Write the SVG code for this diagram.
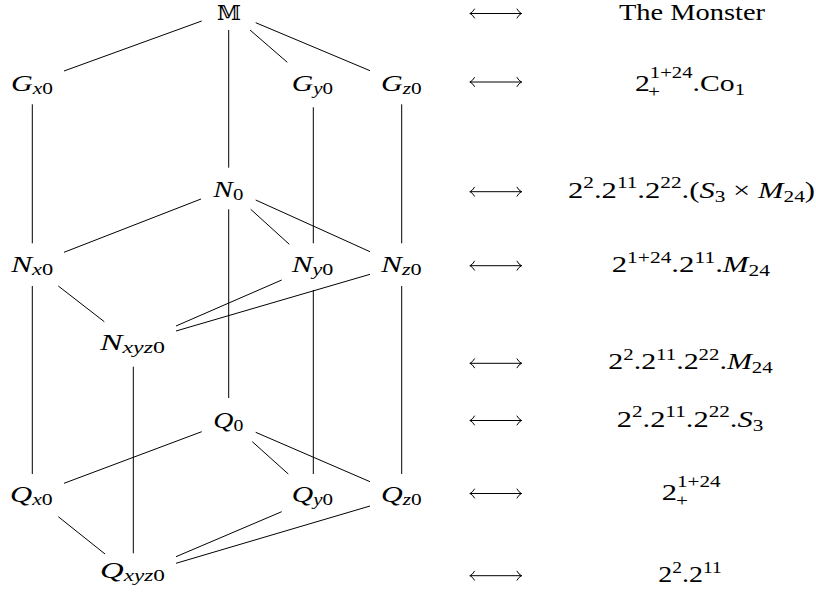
<svg xmlns="http://www.w3.org/2000/svg" width="816" height="596" viewBox="0 0 816 596">
<style>
  .bg { fill: #ffffff; }
  .edge { stroke: #000000; stroke-width: 1; fill: none; stroke-linecap: butt; }
  .lbl { font-family: "Liberation Serif", "Times New Roman", serif; font-size: 24px; font-style: italic; fill: #000; }
  .s { font-size: 17px; }
  .up { font-style: normal; }
  .rt { font-family: "Liberation Serif", "Times New Roman", serif; font-size: 23px; fill: #000; }
  .sp { font-size: 16px; }
  .it { font-style: italic; }
  .bb { font-family: "DejaVu Serif", "DejaVu Sans", serif; font-size: 21px; fill: #000; }
  .arr { stroke: #000; stroke-width: 1; fill: none; stroke-linecap: round; }
</style>
<defs>
  <g id="lra">
    <line x1="470" y1="0" x2="521.5" y2="0"/>
    <path d="M474.5,-4.5 Q472.5,-1 470,0 Q472.5,1 474.5,4.5"/>
    <path d="M517,-4.5 Q519,-1 521.5,0 Q519,1 517,4.5"/>
  </g>
</defs>
<rect class="bg" x="0" y="0" width="816" height="596"/>

<g id="connectors" class="edge">
  <line x1="201.7" y1="21" x2="64" y2="71"/>
  <line x1="228.7" y1="30" x2="228.7" y2="167.7"/>
  <line x1="250" y1="30" x2="287.3" y2="62.3"/>
  <line x1="255.7" y1="22.7" x2="370" y2="70.7"/>
  <line x1="32.3" y1="104.3" x2="32.3" y2="243.3"/>
  <line x1="313.3" y1="107.3" x2="313.3" y2="243.3"/>
  <line x1="401.7" y1="104.3" x2="401.7" y2="243.3"/>
  <line x1="201" y1="199" x2="64" y2="252.3"/>
  <line x1="250.7" y1="209.3" x2="289.3" y2="244.3"/>
  <line x1="255.7" y1="200" x2="370" y2="251.7"/>
  <line x1="228.7" y1="209.3" x2="228.7" y2="398"/>
  <line x1="58.3" y1="286" x2="104.3" y2="321.7"/>
  <line x1="281.7" y1="280" x2="176" y2="326"/>
  <line x1="370" y1="274.3" x2="176" y2="331"/>
  <line x1="32.3" y1="286" x2="32.3" y2="474"/>
  <line x1="313.3" y1="290" x2="313.3" y2="474"/>
  <line x1="401.7" y1="286" x2="401.7" y2="474"/>
  <line x1="133.3" y1="366.7" x2="133.3" y2="553.3"/>
  <line x1="201.7" y1="431.7" x2="64" y2="483.3"/>
  <line x1="252.3" y1="441.7" x2="288.3" y2="474"/>
  <line x1="255.7" y1="432.3" x2="370" y2="481.7"/>
  <line x1="58.3" y1="516.7" x2="105" y2="554"/>
  <line x1="281.7" y1="511.7" x2="176" y2="556.7"/>
  <line x1="370" y1="506" x2="176" y2="563.3"/>
</g>

<g id="node-M"><text class="bb" x="217" y="19.5" textLength="24" lengthAdjust="spacingAndGlyphs">𝕄</text></g>
<g id="node-Gx0"><text class="lbl" x="11" y="90.5" textLength="42" lengthAdjust="spacingAndGlyphs">G<tspan class="s" dy="3">x</tspan><tspan class="s up">0</tspan></text></g>
<g id="node-Gy0"><text class="lbl" x="291.7" y="90.5" textLength="41.3" lengthAdjust="spacingAndGlyphs">G<tspan class="s" dy="3">y</tspan><tspan class="s up">0</tspan></text></g>
<g id="node-Gz0"><text class="lbl" x="381" y="90.5" textLength="40.7" lengthAdjust="spacingAndGlyphs">G<tspan class="s" dy="3">z</tspan><tspan class="s up">0</tspan></text></g>
<g id="node-N0"><text class="lbl" x="213.3" y="197" textLength="30" lengthAdjust="spacingAndGlyphs">N<tspan class="s up" dy="3">0</tspan></text></g>
<g id="node-Nx0"><text class="lbl" x="11" y="271.5" textLength="42.3" lengthAdjust="spacingAndGlyphs">N<tspan class="s" dy="3">x</tspan><tspan class="s up">0</tspan></text></g>
<g id="node-Ny0"><text class="lbl" x="291.7" y="271.5" textLength="41.6" lengthAdjust="spacingAndGlyphs">N<tspan class="s" dy="3">y</tspan><tspan class="s up">0</tspan></text></g>
<g id="node-Nz0"><text class="lbl" x="381" y="271.5" textLength="40.7" lengthAdjust="spacingAndGlyphs">N<tspan class="s" dy="3">z</tspan><tspan class="s up">0</tspan></text></g>
<g id="node-Nxyz0"><text class="lbl" x="100" y="350" textLength="65" lengthAdjust="spacingAndGlyphs">N<tspan class="s" dy="3">xyz</tspan><tspan class="s up">0</tspan></text></g>
<g id="node-Q0"><text class="lbl" x="213.3" y="428" textLength="30" lengthAdjust="spacingAndGlyphs">Q<tspan class="s up" dy="3">0</tspan></text></g>
<g id="node-Qx0"><text class="lbl" x="10" y="502" textLength="42.7" lengthAdjust="spacingAndGlyphs">Q<tspan class="s" dy="3">x</tspan><tspan class="s up">0</tspan></text></g>
<g id="node-Qy0"><text class="lbl" x="291.7" y="502" textLength="41.3" lengthAdjust="spacingAndGlyphs">Q<tspan class="s" dy="3">y</tspan><tspan class="s up">0</tspan></text></g>
<g id="node-Qz0"><text class="lbl" x="381" y="502" textLength="40.7" lengthAdjust="spacingAndGlyphs">Q<tspan class="s" dy="3">z</tspan><tspan class="s up">0</tspan></text></g>
<g id="node-Qxyz0"><text class="lbl" x="100" y="578" textLength="65" lengthAdjust="spacingAndGlyphs">Q<tspan class="s" dy="3">xyz</tspan><tspan class="s up">0</tspan></text></g>

<g id="arrows" class="arr">
  <use href="#lra" y="13.5"/>
  <use href="#lra" y="82"/>
  <use href="#lra" y="191.7"/>
  <use href="#lra" y="265.7"/>
  <use href="#lra" y="363.3"/>
  <use href="#lra" y="420.5"/>
  <use href="#lra" y="493.5"/>
  <use href="#lra" y="575.7"/>
</g>

<g id="row-1"><text class="rt" x="619" y="20" textLength="146" lengthAdjust="spacingAndGlyphs">The Monster</text></g>
<g id="row-2">
  <text class="rt" x="635" y="90.5" textLength="110" lengthAdjust="spacingAndGlyphs">2<tspan class="sp" dy="-13">1+24</tspan><tspan dy="13">.Co</tspan><tspan class="sp" dy="4">1</tspan></text>
  <text class="rt sp" x="648" y="96.5" textLength="12" lengthAdjust="spacingAndGlyphs">+</text>
</g>
<g id="row-3"><text class="rt" x="568" y="197.5" textLength="247" lengthAdjust="spacingAndGlyphs">2<tspan class="sp" dy="-9.5">2</tspan><tspan dy="9.5">.2</tspan><tspan class="sp" dy="-9.5">11</tspan><tspan dy="9.5">.2</tspan><tspan class="sp" dy="-9.5">22</tspan><tspan dy="9.5">.(</tspan><tspan class="it">S</tspan><tspan class="sp" dy="4">3</tspan><tspan dy="-4"> × </tspan><tspan class="it">M</tspan><tspan class="sp" dy="4">24</tspan><tspan dy="-4">)</tspan></text></g>
<g id="row-4"><text class="rt" x="611.7" y="271.7" textLength="158.3" lengthAdjust="spacingAndGlyphs">2<tspan class="sp" dy="-9">1+24</tspan><tspan dy="9">.2</tspan><tspan class="sp" dy="-9">11</tspan><tspan dy="9">.</tspan><tspan class="it">M</tspan><tspan class="sp" dy="4">24</tspan></text></g>
<g id="row-5"><text class="rt" x="608.3" y="369" textLength="164.4" lengthAdjust="spacingAndGlyphs">2<tspan class="sp" dy="-9.5">2</tspan><tspan dy="9.5">.2</tspan><tspan class="sp" dy="-9.5">11</tspan><tspan dy="9.5">.2</tspan><tspan class="sp" dy="-9.5">22</tspan><tspan dy="9.5">.</tspan><tspan class="it">M</tspan><tspan class="sp" dy="4">24</tspan></text></g>
<g id="row-6"><text class="rt" x="616.7" y="426.5" textLength="146.6" lengthAdjust="spacingAndGlyphs">2<tspan class="sp" dy="-9.5">2</tspan><tspan dy="9.5">.2</tspan><tspan class="sp" dy="-9.5">11</tspan><tspan dy="9.5">.2</tspan><tspan class="sp" dy="-9.5">22</tspan><tspan dy="9.5">.</tspan><tspan class="it">S</tspan><tspan class="sp" dy="4">3</tspan></text></g>
<g id="row-7">
  <text class="rt" x="661.7" y="500" textLength="59" lengthAdjust="spacingAndGlyphs">2<tspan class="sp" dy="-13">1+24</tspan></text>
  <text class="rt sp" x="676" y="506" textLength="12" lengthAdjust="spacingAndGlyphs">+</text>
</g>
<g id="row-8"><text class="rt" x="658.3" y="582" textLength="63.4" lengthAdjust="spacingAndGlyphs">2<tspan class="sp" dy="-9.5">2</tspan><tspan dy="9.5">.2</tspan><tspan class="sp" dy="-9.5">11</tspan></text></g>
</svg>
